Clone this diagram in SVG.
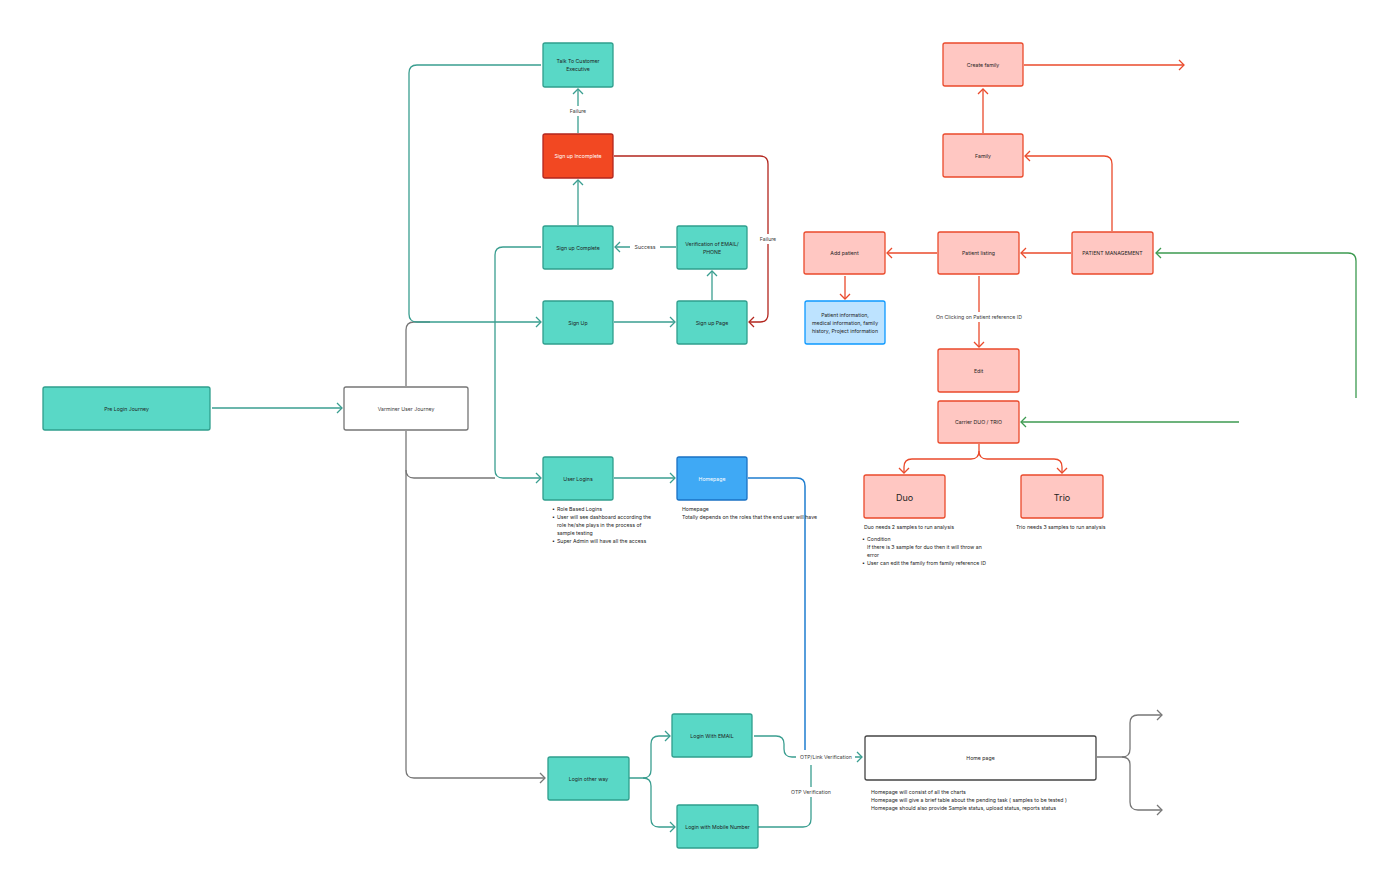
<svg xmlns="http://www.w3.org/2000/svg" width="1400" height="892" viewBox="0 0 1400 892">
<style>
text{font-family:Inter,"Liberation Sans",sans-serif;font-size:5.2px;fill:#1e1e1e}
.c{text-anchor:middle;dominant-baseline:central}
.w{fill:#ffffff}
.g{fill:#3a3a3a}
.big{font-size:9px}
.teal{fill:#59d8c6;stroke:#2f9e8d;stroke-width:1.3}
.redn{fill:#ffc7c2;stroke:#ea4a2b;stroke-width:1.3}
.inc{fill:#f24822;stroke:#b3261e;stroke-width:1.3}
.blue{fill:#3fa9f5;stroke:#1a72c4;stroke-width:1.3}
.info{fill:#bde3ff;stroke:#0d99ff;stroke-width:1.3}
.wht{fill:#ffffff;stroke:#757575;stroke-width:1.3}
.wht2{fill:#ffffff;stroke:#444;stroke-width:1.3}
.lt{fill:none;stroke:#3a9e90;stroke-width:1.3}
.lg{fill:none;stroke:#777;stroke-width:1.3}
.lr{fill:none;stroke:#ea4a2b;stroke-width:1.3}
.ld{fill:none;stroke:#b3261e;stroke-width:1.3}
.lb{fill:none;stroke:#1f7ed0;stroke-width:1.5}
.lgr{fill:none;stroke:#3c9a50;stroke-width:1.3}
.bg{fill:#ffffff}
</style>
<defs>
<marker id="aT" viewBox="-6 -6 7 12" refX="0" refY="0" markerWidth="7" markerHeight="12" markerUnits="userSpaceOnUse" orient="auto"><path d="M-5,-5 L0,0 L-5,5" fill="none" stroke="#3a9e90" stroke-width="1.3"/></marker>
<marker id="aG" viewBox="-6 -6 7 12" refX="0" refY="0" markerWidth="7" markerHeight="12" markerUnits="userSpaceOnUse" orient="auto"><path d="M-5,-5 L0,0 L-5,5" fill="none" stroke="#777" stroke-width="1.3"/></marker>
<marker id="aR" viewBox="-6 -6 7 12" refX="0" refY="0" markerWidth="7" markerHeight="12" markerUnits="userSpaceOnUse" orient="auto"><path d="M-5,-5 L0,0 L-5,5" fill="none" stroke="#ea4a2b" stroke-width="1.3"/></marker>
<marker id="aD" viewBox="-6 -6 7 12" refX="0" refY="0" markerWidth="7" markerHeight="12" markerUnits="userSpaceOnUse" orient="auto"><path d="M-5,-5 L0,0 L-5,5" fill="none" stroke="#b3261e" stroke-width="1.3"/></marker>
<marker id="aGr" viewBox="-6 -6 7 12" refX="0" refY="0" markerWidth="7" markerHeight="12" markerUnits="userSpaceOnUse" orient="auto"><path d="M-5,-5 L0,0 L-5,5" fill="none" stroke="#3c9a50" stroke-width="1.3"/></marker>
</defs>
<rect width="1400" height="892" fill="#ffffff"/>

<g id="connectors">
<!-- gray -->
<path class="lg" d="M406,386 V330 Q406,322 414,322 H430"/>
<path class="lg" d="M406,431 V770 Q406,778 414,778 H545" marker-end="url(#aG)"/>
<path class="lg" d="M406,470 Q406,478 414,478 H495"/>
<path class="lg" d="M1097,757 H1122 Q1130,757 1130,749 V723 Q1130,715 1138,715 H1162" marker-end="url(#aG)"/>
<path class="lg" d="M1122,757 Q1130,757 1130,765 V802 Q1130,810 1138,810 H1162" marker-end="url(#aG)"/>
<!-- teal -->
<path class="lt" d="M541,65 H417 Q409,65 409,73 V314 Q409,322 417,322 H541" marker-end="url(#aT)"/>
<path class="lt" d="M578,133 V89" marker-end="url(#aT)"/>
<path class="lt" d="M578,225 V180" marker-end="url(#aT)"/>
<path class="lt" d="M676,247 H615" marker-end="url(#aT)"/>
<path class="lt" d="M712,300 V271" marker-end="url(#aT)"/>
<path class="lt" d="M614,322 H675" marker-end="url(#aT)"/>
<path class="lt" d="M541,247 H503 Q495,247 495,255 V470 Q495,478 503,478 H541" marker-end="url(#aT)"/>
<path class="lt" d="M212,408 H342" marker-end="url(#aT)"/>
<path class="lt" d="M614,478 H675" marker-end="url(#aT)"/>
<path class="lt" d="M629,778 H643 Q651,778 651,770 V744 Q651,736 659,736 H670" marker-end="url(#aT)"/>
<path class="lt" d="M643,778 Q651,778 651,786 V819 Q651,827 659,827 H675" marker-end="url(#aT)"/>
<path class="lt" d="M754,736 H776 Q784,736 784,744 V749 Q784,757 792,757 H862" marker-end="url(#aT)"/>
<path class="lt" d="M758,827 H803 Q811,827 811,819 V765"/>
<!-- dark red -->
<path class="ld" d="M614,156 H760 Q768,156 768,164 V314 Q768,322 760,322 H749" marker-end="url(#aD)"/>
<!-- blue -->
<path class="lb" d="M748,478 H797 Q805,478 805,486 V750"/>
<!-- red -->
<path class="lr" d="M1024,65 H1184" marker-end="url(#aR)"/>
<path class="lr" d="M983,133 V89" marker-end="url(#aR)"/>
<path class="lr" d="M1112,231 V164 Q1112,156 1104,156 H1025" marker-end="url(#aR)"/>
<path class="lr" d="M1071,253 H1021" marker-end="url(#aR)"/>
<path class="lr" d="M937,253 H887" marker-end="url(#aR)"/>
<path class="lr" d="M845,276 V299" marker-end="url(#aR)"/>
<path class="lr" d="M979,276 V347" marker-end="url(#aR)"/>
<path class="lr" d="M979,444 V451 Q979,459 971,459 H912 Q904,459 904,467 V473" marker-end="url(#aR)"/>
<path class="lr" d="M979,451 Q979,459 987,459 H1054 Q1062,459 1062,467 V473" marker-end="url(#aR)"/>
<!-- green -->
<path class="lgr" d="M1356,398 V261 Q1356,253 1348,253 H1156" marker-end="url(#aGr)"/>
<path class="lgr" d="M1239,422 H1021" marker-end="url(#aGr)"/>
<!-- labels -->
<rect class="bg" x="566" y="106" width="24" height="10"/>
<text class="c g" x="578" y="111">Failure</text>
<rect class="bg" x="630" y="242" width="30" height="10"/>
<text class="c g" x="645" y="247">Success</text>
<rect class="bg" x="756" y="234" width="24" height="10"/>
<text class="c g" x="768" y="239">Failure</text>
<rect class="bg" x="796" y="752" width="59" height="10"/>
<text class="c g" x="826" y="757">OTP/Link Verification</text>
<rect class="bg" x="787" y="787" width="48" height="10"/>
<text class="c g" x="811" y="792">OTP Verification</text>
<rect class="bg" x="931" y="312" width="96" height="10"/>
<text class="c g" x="979" y="317">On Clicking on Patient reference ID</text>
</g>

<g id="talk-to-customer"><rect class="teal" x="543" y="43" width="70" height="44" rx="2"/><text class="c" x="578" y="61">Talk To Customer</text><text class="c" x="578" y="69">Executive</text></g>
<g id="signup-incomplete"><rect class="inc" x="543" y="134" width="70" height="44" rx="2"/><text class="c w" x="578" y="156">Sign up Incomplete</text></g>
<g id="signup-complete"><rect class="teal" x="543" y="226" width="70" height="43" rx="2"/><text class="c" x="578" y="247.5">Sign up Complete</text></g>
<g id="verification"><rect class="teal" x="677" y="226" width="70" height="43" rx="2"/><text class="c" x="712" y="243.5">Verification of EMAIL/</text><text class="c" x="712" y="251.5">PHONE</text></g>
<g id="signup"><rect class="teal" x="543" y="301" width="70" height="43" rx="2"/><text class="c" x="578" y="322.5">Sign Up</text></g>
<g id="signup-page"><rect class="teal" x="677" y="301" width="70" height="43" rx="2"/><text class="c" x="712" y="322.5">Sign up Page</text></g>
<g id="pre-login"><rect class="teal" x="43" y="387" width="167" height="43" rx="2"/><text class="c" x="126.5" y="408.5">Pre Login Journey</text></g>
<g id="varminer"><rect class="wht" x="344" y="387" width="124" height="43" rx="2"/><text class="c g" x="406" y="408.5">Varminer User Journey</text></g>
<g id="user-logins"><rect class="teal" x="543" y="457" width="70" height="43" rx="2"/><text class="c" x="578" y="478.5">User Logins</text>
<text x="552" y="511">•</text><text x="557" y="511">Role Based Logins</text>
<text x="552" y="519">•</text><text x="557" y="519">User will see dashboard according the</text>
<text x="557" y="527">role he/she plays in the process of</text>
<text x="557" y="535">sample testing</text>
<text x="552" y="543">•</text><text x="557" y="543">Super Admin will have all the access</text></g>
<g id="homepage"><rect class="blue" x="677" y="457" width="70" height="43" rx="2"/><text class="c w" x="712" y="478.5">Homepage</text>
<text x="682" y="511">Homepage</text>
<text x="682" y="519">Totally depends on the roles that the end user will have</text></g>
<g id="login-email"><rect class="teal" x="672" y="714" width="80" height="43" rx="2"/><text class="c" x="712" y="735.5">Login With EMAIL</text></g>
<g id="login-other"><rect class="teal" x="548" y="757" width="81" height="43" rx="2"/><text class="c" x="588.5" y="778.5">Login other way</text></g>
<g id="login-mobile"><rect class="teal" x="677" y="805" width="81" height="43" rx="2"/><text class="c" x="717.5" y="826.5">Login with Mobile Number</text></g>
<g id="home-page"><rect class="wht2" x="865" y="736" width="231" height="44" rx="2"/><text class="c" x="980.5" y="758">Home page</text>
<text x="871" y="794">Homepage will consist of all the charts</text>
<text x="871" y="802">Homepage will give a brief table about the pending task ( samples to be tested )</text>
<text x="871" y="810">Homepage should also provide Sample status, upload status, reports status</text></g>
<g id="create-family"><rect class="redn" x="943" y="43" width="80" height="43" rx="2"/><text class="c" x="983" y="65">Create family</text></g>
<g id="family"><rect class="redn" x="943" y="134" width="80" height="43" rx="2"/><text class="c" x="983" y="156">Family</text></g>
<g id="add-patient"><rect class="redn" x="804" y="232" width="81" height="42" rx="2"/><text class="c" x="844.5" y="253">Add patient</text></g>
<g id="patient-listing"><rect class="redn" x="938" y="232" width="81" height="42" rx="2"/><text class="c" x="978.5" y="253">Patient listing</text></g>
<g id="patient-management"><rect class="redn" x="1072" y="232" width="81" height="42" rx="2"/><text class="c" x="1112.5" y="253">PATIENT MANAGEMENT</text></g>
<g id="patient-info"><rect class="info" x="805" y="301" width="80" height="43" rx="2"/><text class="c" x="845" y="315">Patient information,</text><text class="c" x="845" y="323">medical information, family</text><text class="c" x="845" y="331">history, Project information</text></g>
<g id="edit"><rect class="redn" x="938" y="349" width="81" height="43" rx="2"/><text class="c" x="978.5" y="371">Edit</text></g>
<g id="carrier"><rect class="redn" x="938" y="401" width="81" height="42" rx="2"/><text class="c" x="978.5" y="422">Carrier DUO / TRIO</text></g>
<g id="duo"><rect class="redn" x="864" y="475" width="81" height="43" rx="2"/><text class="c big" x="904.5" y="497">Duo</text>
<text x="864" y="528.5">Duo needs 2 samples to run analysis</text>
<text x="862" y="540.5">•</text><text x="867" y="540.5">Condition</text>
<text x="867" y="548.5">If there is 3 sample for duo then it will throw an</text>
<text x="867" y="556.5">error</text>
<text x="862" y="564.5">•</text><text x="867" y="564.5">User can edit the family from family reference ID</text></g>
<g id="trio"><rect class="redn" x="1021" y="475" width="82" height="43" rx="2"/><text class="c big" x="1062" y="497">Trio</text>
<text x="1016" y="528.5">Trio needs 3 samples to run analysis</text></g>
</svg>
